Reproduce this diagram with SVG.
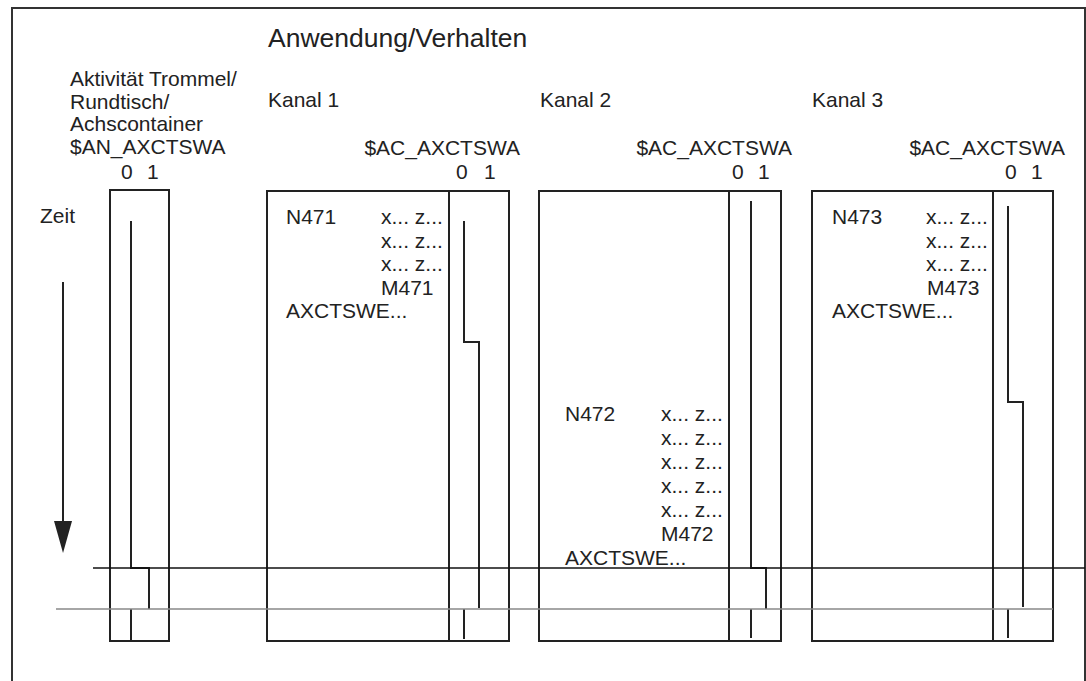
<svg xmlns="http://www.w3.org/2000/svg" width="1086" height="681" viewBox="0 0 1086 681">
<style>
text{font-family:"Liberation Sans",Arial,sans-serif;font-size:21px;fill:#222}
.t{font-size:26.5px}
.box{fill:none;stroke:#222;stroke-width:2}
.sig{fill:none;stroke:#222;stroke-width:2}
.frame{fill:none;stroke:#333;stroke-width:2}
</style>
<defs>
<marker id="ah" markerWidth="34" markerHeight="18" refX="27" refY="9" orient="auto" markerUnits="userSpaceOnUse" viewBox="0 0 34 18">
<path d="M0,0 L32,9 L0,18 Z" fill="#222"/>
</marker>
</defs>
<rect width="1086" height="681" fill="#fff"/>
<path class="frame" d="M12,681 V8 H1085 V681"/>
<text class="t" x="268" y="47">Anwendung/Verhalten</text>

<g id="an">
<text x="70" y="86">Aktivität Trommel/</text>
<text x="70" y="108.5">Rundtisch/</text>
<text x="70" y="131">Achscontainer</text>
<text x="70" y="153.5">$AN_AXCTSWA</text>
<text x="121" y="179">0</text>
<text x="147" y="179">1</text>
<text x="40" y="223">Zeit</text>
<rect class="box" x="110" y="190" width="59" height="451"/>
<path class="sig" d="M131,221 V568 H149 V609 M131,609 V641"/>
</g>

<g id="k1">
<text x="268" y="107">Kanal 1</text>
<text x="520" y="155" text-anchor="end">$AC_AXCTSWA</text>
<text x="456" y="179">0</text>
<text x="484" y="179">1</text>
<rect class="box" x="267" y="191" width="242" height="450"/>
<line class="box" x1="449" y1="191" x2="449" y2="641"/>
<text x="286" y="224">N471</text>
<text x="381" y="224">x... z...</text>
<text x="381" y="247.5">x... z...</text>
<text x="381" y="271">x... z...</text>
<text x="381" y="294.5">M471</text>
<text x="286" y="318">AXCTSWE...</text>
<path class="sig" d="M464,221 V342 H479 V608 M464,609 V639"/>
</g>

<g id="k2">
<text x="540" y="107">Kanal 2</text>
<text x="792" y="155" text-anchor="end">$AC_AXCTSWA</text>
<text x="732" y="179">0</text>
<text x="758" y="179">1</text>
<rect class="box" x="539" y="191" width="242" height="450"/>
<line class="box" x1="729" y1="191" x2="729" y2="641"/>
<text x="565" y="421">N472</text>
<text x="661" y="421">x... z...</text>
<text x="661" y="445">x... z...</text>
<text x="661" y="469">x... z...</text>
<text x="661" y="493">x... z...</text>
<text x="661" y="517">x... z...</text>
<text x="661" y="541">M472</text>
<text x="565" y="564.5">AXCTSWE...</text>
<path class="sig" d="M751,201 V568 H766 V609 M751,609 V638"/>
</g>

<g id="k3">
<text x="812" y="107">Kanal 3</text>
<text x="1065" y="155" text-anchor="end">$AC_AXCTSWA</text>
<text x="1005" y="179">0</text>
<text x="1031" y="179">1</text>
<rect class="box" x="812" y="191" width="241" height="450"/>
<line class="box" x1="993" y1="191" x2="993" y2="641"/>
<text x="832" y="224">N473</text>
<text x="926" y="224">x... z...</text>
<text x="926" y="247.5">x... z...</text>
<text x="926" y="271">x... z...</text>
<text x="927" y="294.5">M473</text>
<text x="832" y="318">AXCTSWE...</text>
<path class="sig" d="M1008,206 V402 H1023 V607 M1008,609 V638"/>
</g>

<g id="connectors">
<line x1="63" y1="282" x2="63" y2="548" stroke="#222" stroke-width="2" marker-end="url(#ah)"/>
<line x1="93" y1="568" x2="1085" y2="568" stroke="#111" stroke-width="1.5"/>
<line x1="56" y1="609" x2="1053" y2="609" stroke="#888" stroke-width="1.5"/>
</g>
</svg>
